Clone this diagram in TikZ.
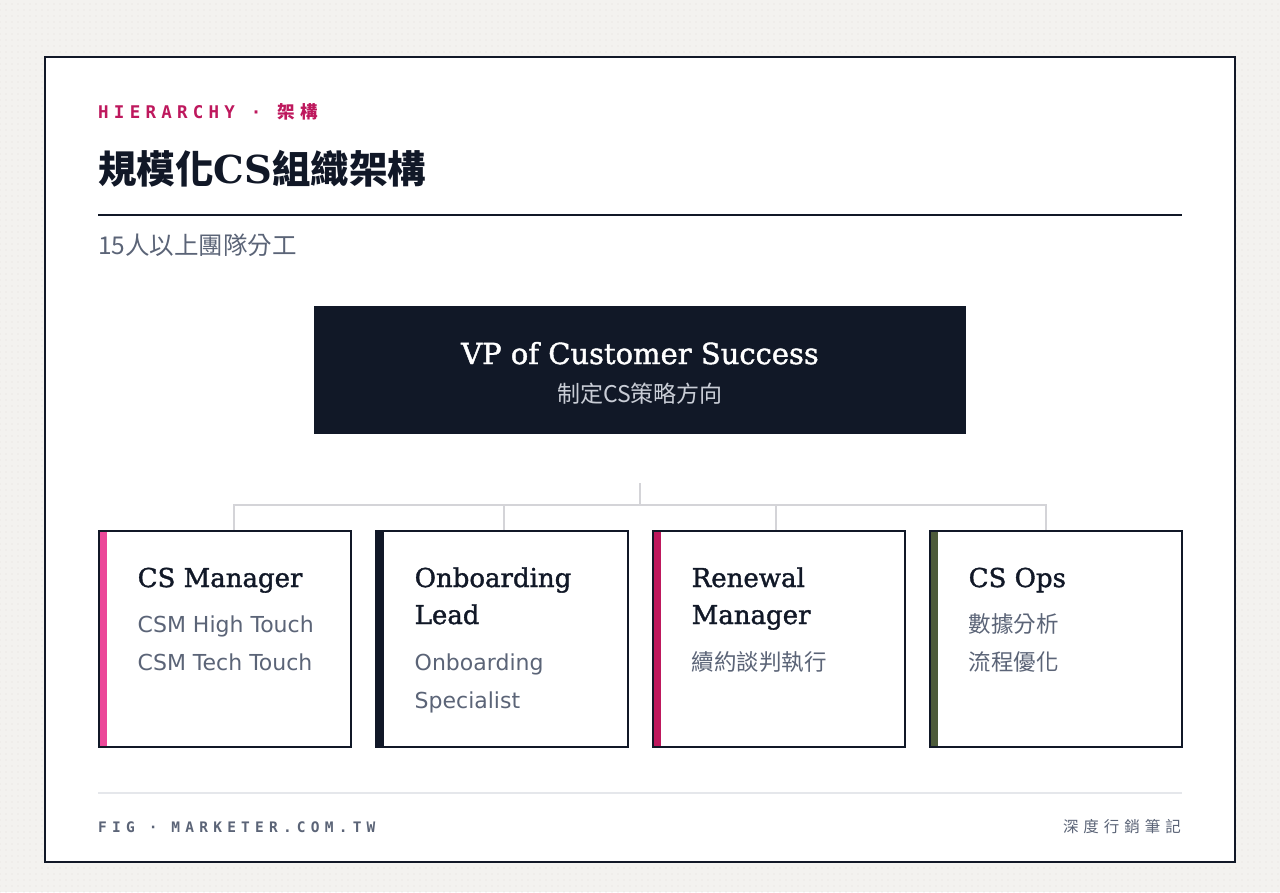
\documentclass[tikz,border=0pt]{standalone}
\usepackage{fontspec}
\setmainfont{DejaVu Serif}
\newfontfamily\headserif{DejaVu Serif}[FakeBold=1.4]
\newfontfamily\cjk{Noto Sans CJK TC}
\newfontfamily\cjkwide{Noto Sans CJK TC}[LetterSpace=32]
\newfontfamily\latinsans{DejaVu Sans}
\newfontfamily\kickerfont{DejaVu Sans Mono}[LetterSpace=30]
\newfontfamily\footfont{DejaVu Sans Mono}[LetterSpace=36]
\usetikzlibrary{positioning, patterns.meta}

\definecolor{ink}{HTML}{111827}
\definecolor{magenta}{HTML}{BE185D}
\definecolor{pinkbar}{HTML}{EC4899}
\definecolor{olive}{HTML}{4D5B3A}
\definecolor{slate}{HTML}{5B6477}
\definecolor{linegray}{HTML}{D4D4D8}
\definecolor{rulegray}{HTML}{E5E7EB}
\definecolor{paper}{HTML}{F3F2EF}
\definecolor{dotgray}{HTML}{E2E0DB}
\definecolor{vpsub}{HTML}{C9CDD6}

\begin{document}
\begin{tikzpicture}[x=1pt, y=-1pt,
    card/.style={rectangle, draw=ink, line width=2pt, fill=white,
      minimum width=252pt, minimum height=216pt, inner sep=0pt,
      path picture={\fill[#1] (path picture bounding box.north west)
        rectangle ([xshift=8pt]path picture bounding box.south west);}},
    vpbox/.style={rectangle, fill=ink, minimum width=652pt, minimum height=128pt, inner sep=0pt},
    link/.style={draw=linegray, line width=2pt},
    cardtitle/.style={anchor=base west, inner sep=0pt, text=ink, font=\headserif\fontsize{26}{30}\selectfont},
    carditem/.style={anchor=base west, inner sep=0pt, text=slate, font=\latinsans\fontsize{22}{26}\selectfont},
    carditemcjk/.style={anchor=base west, inner sep=0pt, text=slate, font=\cjk\fontsize{22.5}{26}\selectfont}]
  \useasboundingbox (0,0) rectangle (1280,892);

  % Background and frame
  \fill[paper] (0,0) rectangle (1280,892);
  \fill[pattern={Dots[distance=6pt, radius=0.7pt]}, pattern color=dotgray] (0,0) rectangle (1280,892);
  \draw[ink, line width=2pt, fill=white] (45,57) rectangle (1235,862);

  % Header
  \node[anchor=base west, inner sep=0pt, text=magenta] (kicker) at (98,118)
    {{\kickerfont\bfseries\fontsize{17.5}{20}\selectfont HIERARCHY · }{\cjkwide\bfseries\fontsize{17.5}{20}\selectfont 架構}};
  \node[anchor=base west, inner sep=0pt, text=ink] (title) at (98,183)
    {\fontsize{38.5}{44}\selectfont{\cjk\bfseries 規模化}{\bfseries CS}{\cjk\bfseries 組織架構}};
  \draw[ink, line width=2pt] (98,215) -- (1182,215);
  \node[anchor=base west, inner sep=0pt, text=slate, font=\cjk\fontsize{24.5}{28}\selectfont] (subtitle) at (98,254) {15人以上團隊分工};

  % Top box
  \node[vpbox] (vp) at (640,370) {};
  \node[anchor=base, inner sep=0pt, text=white, font=\headserif\fontsize{29}{34}\selectfont] (vp-title) at (640,364) {VP of Customer Success};
  \node[anchor=base, inner sep=0pt, text=vpsub, font=\cjk\fontsize{23}{26}\selectfont] (vp-sub) at (640,402) {制定CS策略方向};

  % Team cards
  \node[card=pinkbar] (csm) at (224.5,639) {};
  \node[card=ink] (onb) at (501.5,639) {};
  \node[card=magenta] (ren) at (778.5,639) {};
  \node[card=olive] (ops) at (1055.5,639) {};

  % Connectors
  \coordinate (hub) at (640,483);
  \coordinate (bus) at (640,505);
  \draw[link] (hub) -- (bus);
  \draw[link] (bus) -| ([xshift=9.5pt]csm.north);
  \draw[link] (bus) -| ([xshift=2.5pt]onb.north);
  \draw[link] (bus) -| ([xshift=-2.5pt]ren.north);
  \draw[link] (bus) -| ([xshift=-9.5pt]ops.north);

  % Card texts
  \node[cardtitle] (csm-title) at (137.5,587) {CS Manager};
  \node[carditem] (csm-a) at (137.5,632) {CSM High Touch};
  \node[carditem] (csm-b) at (137.5,670) {CSM Tech Touch};

  \node[cardtitle] (onb-title) at (414.5,587) {Onboarding};
  \node[cardtitle] (onb-title2) at (414.5,624) {Lead};
  \node[carditem] (onb-a) at (414.5,670) {Onboarding};
  \node[carditem] (onb-b) at (414.5,708) {Specialist};

  \node[cardtitle] (ren-title) at (691.5,587) {Renewal};
  \node[cardtitle] (ren-title2) at (691.5,624) {Manager};
  \node[carditemcjk] (ren-a) at (691.5,670) {續約談判執行};

  \node[cardtitle] (ops-title) at (968.5,587) {CS Ops};
  \node[carditemcjk] (ops-a) at (968.5,632) {數據分析};
  \node[carditemcjk] (ops-b) at (968.5,670) {流程優化};

  % Footer
  \draw[rulegray, line width=1.5pt] (98,793) -- (1182,793);
  \node[anchor=base west, inner sep=0pt, text=slate, font=\footfont\bfseries\fontsize{14.5}{17}\selectfont] (fig) at (98,832) {FIG · MARKETER.COM.TW};
  \node[anchor=base east, inner sep=0pt, text=slate, font=\cjkwide\fontsize{15.5}{18}\selectfont] (brand) at (1181,832) {深度行銷筆記};
\end{tikzpicture}
\end{document}
